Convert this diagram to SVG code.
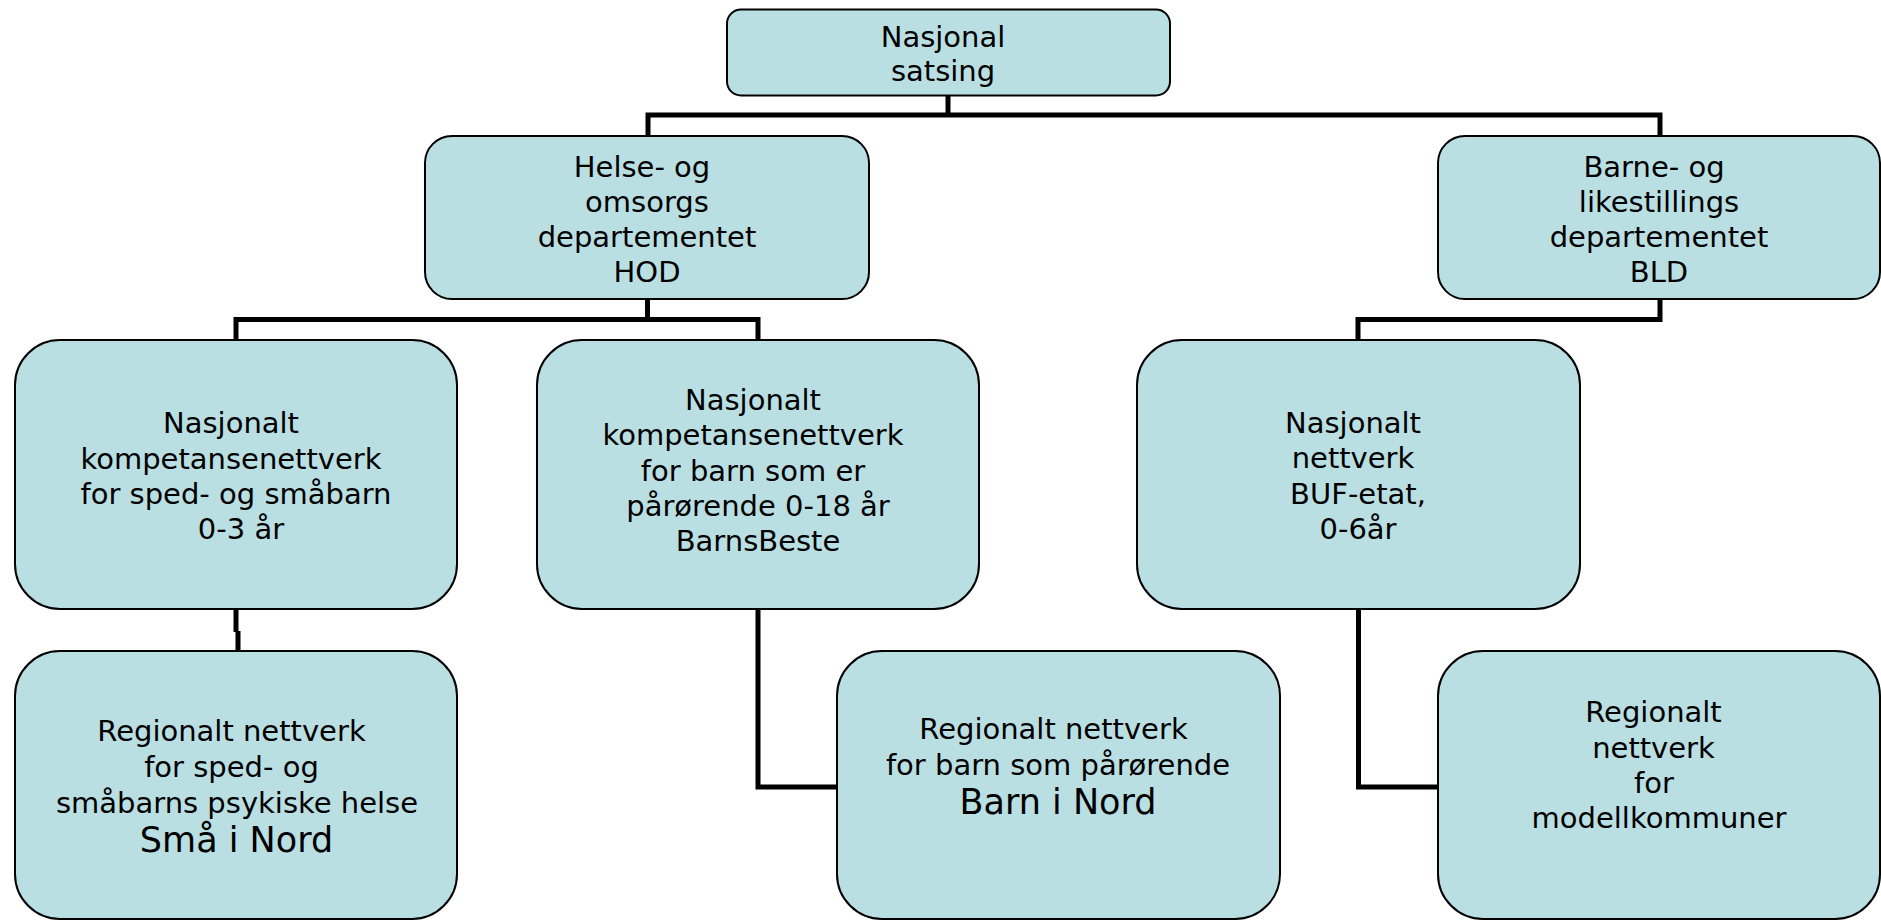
<svg xmlns="http://www.w3.org/2000/svg" width="1881" height="920" viewBox="0 0 1881 920">
<style>
.box{fill:#BADFE3;stroke:#000;stroke-width:2}
.t{font-family:"DejaVu Sans","Verdana",sans-serif;font-size:29px;fill:#000;text-anchor:middle}
.big{font-size:35px}
.con{fill:none;stroke:#000;stroke-width:5;stroke-linejoin:miter;stroke-linecap:butt}
</style>
<rect width="1881" height="920" fill="#fff"/>
<g id="connectors">
<path class="con" d="M948 95 V115"/>
<path class="con" d="M648 136 V115 H1660 V136"/>
<path class="con" d="M647.5 299 V319.5"/>
<path class="con" d="M236 340 V319.5 H758 V340"/>
<path class="con" d="M1660 299 V319.5 H1358 V340"/>
<path class="con" d="M236 609 V632 M238 631 V651"/>
<path class="con" d="M758 609 V787 H837"/>
<path class="con" d="M1358.5 609 V787 H1438"/>
</g>
<g id="n-nasjonal-satsing">
<rect class="box" x="727" y="9.5" width="443" height="86" rx="14"/>
<text class="t" x="943" y="46.7">Nasjonal</text>
<text class="t" x="943" y="81">satsing</text>
</g>
<g id="n-hod">
<rect class="box" x="425" y="136" width="444" height="163" rx="27"/>
<text class="t" x="642" y="176.7">Helse- og</text>
<text class="t" x="647" y="211.7">omsorgs</text>
<text class="t" x="647" y="246.7">departementet</text>
<text class="t" x="647" y="281.7">HOD</text>
</g>
<g id="n-bld">
<rect class="box" x="1438" y="136" width="442" height="163" rx="27"/>
<text class="t" x="1654" y="176.5">Barne- og</text>
<text class="t" x="1659" y="211.5">likestillings</text>
<text class="t" x="1659" y="246.7">departementet</text>
<text class="t" x="1659" y="281.7">BLD</text>
</g>
<g id="n-sped-nasjonalt">
<rect class="box" x="15" y="340" width="442" height="269" rx="45"/>
<text class="t" x="231" y="433.3">Nasjonalt</text>
<text class="t" x="231" y="468.5">kompetansenettverk</text>
<text class="t" x="236" y="504">for sped- og småbarn</text>
<text class="t" x="241" y="539.3">0-3 år</text>
</g>
<g id="n-barnsbeste">
<rect class="box" x="537" y="340" width="442" height="269" rx="45"/>
<text class="t" x="753" y="410">Nasjonalt</text>
<text class="t" x="753" y="445.3">kompetansenettverk</text>
<text class="t" x="753" y="480.6">for barn som er</text>
<text class="t" x="758" y="516">pårørende 0-18 år</text>
<text class="t" x="758" y="551.3">BarnsBeste</text>
</g>
<g id="n-buf">
<rect class="box" x="1137" y="340" width="443" height="269" rx="45"/>
<text class="t" x="1353" y="433">Nasjonalt</text>
<text class="t" x="1353" y="468">nettverk</text>
<text class="t" x="1358" y="503.5">BUF-etat,</text>
<text class="t" x="1358" y="539">0-6år</text>
</g>
<g id="n-sma-i-nord">
<rect class="box" x="15" y="651" width="442" height="268" rx="45"/>
<text class="t" x="231.5" y="740.7">Regionalt nettverk</text>
<text class="t" x="231.5" y="776.7">for sped- og</text>
<text class="t" x="237" y="812.7">småbarns psykiske helse</text>
<text class="t big" x="236.5" y="851.7">Små i Nord</text>
</g>
<g id="n-barn-i-nord">
<rect class="box" x="837" y="651" width="443" height="268" rx="45"/>
<text class="t" x="1053.5" y="738.5">Regionalt nettverk</text>
<text class="t" x="1058" y="775">for barn som pårørende</text>
<text class="t big" x="1058" y="814">Barn i Nord</text>
</g>
<g id="n-modellkommuner">
<rect class="box" x="1438" y="651" width="442" height="268" rx="45"/>
<text class="t" x="1653.5" y="722.3">Regionalt</text>
<text class="t" x="1653.5" y="757.5">nettverk</text>
<text class="t" x="1654" y="793">for</text>
<text class="t" x="1659" y="828.3">modellkommuner</text>
</g>
</svg>
